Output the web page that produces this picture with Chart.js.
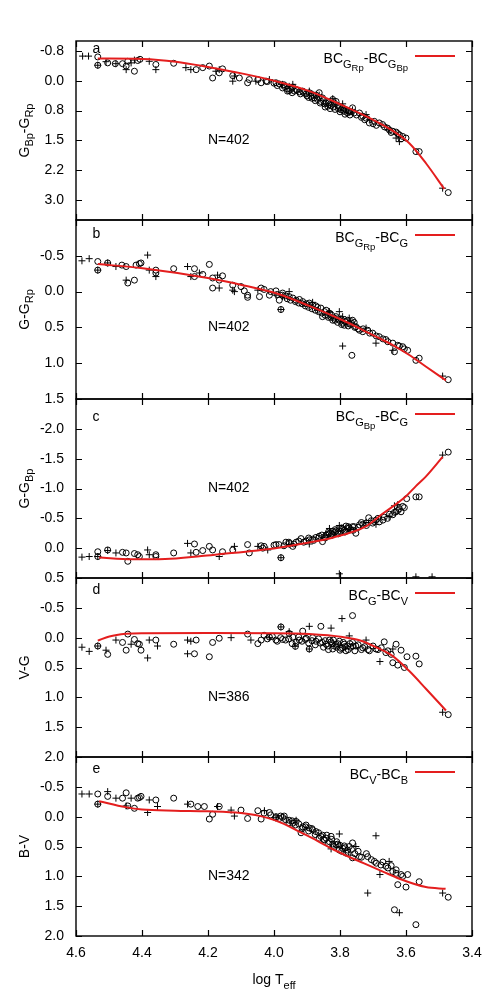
<!DOCTYPE html>
<html>
<head>
<meta charset="utf-8">
<script src="https://cdn.jsdelivr.net/npm/chart.js@4.4.1/dist/chart.umd.min.js"></script>
<style>
html, body { margin: 0; padding: 0; background: #fff; }
#wrap { position: relative; width: 498px; height: 997px; overflow: hidden; }
#wrap canvas { position: absolute; left: 0; }
</style>
</head>
<body>
<div id="wrap"></div>
<script>
// shared x axis (log Teff, reversed)
const xTicks = [3.4, 3.6, 3.8, 4.0, 4.2, 4.4, 4.6];
const xTickLabels = ['3.4', '3.6', '3.8', '4.0', '4.2', '4.4', '4.6'];

// panel a : Gbp-Grp
const aYTicks = [-0.75, 0, 0.75, 1.5, 2.25, 3.0];
const aYLabels = ['-0.8', '0.0', '0.8', '1.5', '2.2', '3.0'];
const aFit = [[4.534,-0.56],[4.398,-0.55],[4.297,-0.48],[4.196,-0.34],[4.095,-0.18],[3.994,0.01],[3.893,0.26],[3.792,0.62],[3.691,1.02],[3.640,1.26],[3.590,1.57],[3.539,2.08],[3.484,2.72]];
const aOpen = [[4.534,-0.60],[4.534,-0.39],[4.504,-0.45],[4.481,-0.43],[4.459,-0.43],[4.448,-0.37],[4.443,-0.49],[4.423,-0.24],[4.413,-0.51],[4.406,-0.54],[4.358,-0.41],[4.304,-0.44],[4.236,-0.28],[4.216,-0.33],[4.196,-0.37],[4.186,-0.07],[4.166,-0.20],[4.156,-0.30],[4.125,-0.13],[4.105,-0.07],[4.080,0.05],[4.075,-0.03],[4.049,-0.03],[4.039,0.05],[4.024,0.01],[3.994,0.05],[3.984,0.08],[3.974,0.18],[3.969,0.14],[3.959,0.26],[3.954,0.25],[3.943,0.16],[3.938,0.26],[3.933,0.22],[3.923,0.28],[3.913,0.26],[3.903,0.33],[3.893,0.30],[3.888,0.39],[3.883,0.35],[3.878,0.43],[3.873,0.36],[3.868,0.47],[3.863,0.30],[3.858,0.52],[3.853,0.43],[3.847,0.58],[3.842,0.56],[3.837,0.64],[3.832,0.60],[3.827,0.62],[3.822,0.47],[3.817,0.56],[3.812,0.52],[3.807,0.62],[3.802,0.67],[3.797,0.73],[3.792,0.68],[3.787,0.77],[3.782,0.73],[3.777,0.81],[3.772,0.77],[3.767,0.78],[3.762,0.68],[3.757,0.81],[3.741,0.81],[3.731,0.89],[3.721,0.94],[3.711,1.06],[3.696,1.02],[3.681,1.06],[3.671,1.10],[3.656,1.19],[3.640,1.27],[3.630,1.29],[3.620,1.36],[3.610,1.40],[3.600,1.44],[3.570,1.78],[3.560,1.78],[3.472,2.81],
    [4.02,0.02],[4.00,0.06],[3.99,0.12],[3.97,0.10],[3.96,0.20],[3.95,0.22],[3.945,0.30],[3.93,0.24],[3.92,0.33],[3.91,0.30],[3.90,0.38],[3.895,0.42],[3.885,0.44],[3.875,0.50],[3.865,0.42],[3.86,0.56],[3.85,0.50],[3.845,0.66],[3.835,0.55],[3.83,0.70],[3.82,0.66],[3.815,0.72],[3.805,0.70],[3.80,0.78],[3.79,0.74],[3.785,0.84],[3.775,0.76],[3.77,0.86],[3.75,0.86],[3.735,0.92],[3.725,0.98],[3.70,1.08],[3.69,1.12],[3.665,1.16],[3.65,1.24],[3.645,1.30],[3.625,1.33],[3.615,1.46]];
const aCross = [[4.580,-0.62],[4.562,-0.62],[4.534,-0.39],[4.509,-0.48],[4.479,-0.43],[4.448,-0.28],[4.433,-0.45],[4.423,-0.52],[4.378,-0.49],[4.358,-0.28],[4.267,-0.33],[4.252,-0.28],[4.176,-0.24],[4.166,-0.28],[4.125,0.01],[4.120,-0.12],[4.055,0.01],[4.014,-0.03],[3.974,0.09],[3.954,0.14],[3.943,0.09],[3.893,0.26],[3.863,0.36],[3.822,0.45],[3.792,0.58],[3.762,0.73],[3.721,0.85],[3.711,0.98],[3.651,1.23],[3.630,1.44],[3.620,1.53],[3.489,2.70]];

// panel b : G-Grp
const bYTicks = [-0.5, 0, 0.5, 1.0, 1.5];
const bYLabels = ['-0.5', '0.0', '0.5', '1.0', '1.5'];
const bFit = [[4.534,-0.385],[4.398,-0.325],[4.196,-0.185],[4.095,-0.09],[3.994,0.024],[3.893,0.20],[3.792,0.40],[3.741,0.513],[3.691,0.63],[3.640,0.746],[3.590,0.885],[3.539,1.05],[3.479,1.24]];
const bOpen = [[4.534,-0.42],[4.534,-0.30],[4.504,-0.40],[4.461,-0.37],[4.448,-0.35],[4.443,-0.12],[4.423,-0.16],[4.418,-0.37],[4.408,-0.39],[4.403,-0.40],[4.358,-0.30],[4.358,-0.26],[4.304,-0.32],[4.241,-0.32],[4.241,-0.21],[4.216,-0.24],[4.196,-0.38],[4.186,-0.19],[4.186,-0.05],[4.166,-0.16],[4.156,-0.22],[4.125,-0.09],[4.100,-0.07],[4.090,-0.01],[4.080,0.05],[4.080,0.08],[4.044,0.07],[4.039,-0.05],[4.014,0.05],[3.994,-0.01],[3.984,0.12],[3.979,0.25],[3.974,0.02],[3.964,0.06],[3.954,0.07],[3.943,0.09],[3.933,0.12],[3.923,0.11],[3.913,0.14],[3.903,0.17],[3.893,0.16],[3.883,0.19],[3.873,0.20],[3.868,0.22],[3.858,0.23],[3.853,0.35],[3.847,0.28],[3.842,0.26],[3.837,0.33],[3.832,0.30],[3.827,0.36],[3.822,0.40],[3.817,0.37],[3.812,0.35],[3.807,0.43],[3.802,0.40],[3.797,0.38],[3.792,0.44],[3.787,0.47],[3.782,0.42],[3.777,0.40],[3.772,0.45],[3.767,0.46],[3.764,0.89],[3.762,0.40],[3.757,0.43],[3.752,0.49],[3.741,0.54],[3.731,0.56],[3.716,0.54],[3.701,0.58],[3.681,0.63],[3.661,0.67],[3.640,0.72],[3.635,0.84],[3.625,0.75],[3.610,0.77],[3.595,0.82],[3.570,0.96],[3.560,0.93],[3.472,1.23],
    [4.03,-0.03],[4.01,0.0],[3.99,0.04],[3.975,0.05],[3.96,0.10],[3.95,0.12],[3.935,0.14],[3.925,0.16],[3.915,0.17],[3.905,0.20],[3.895,0.22],[3.885,0.24],[3.875,0.26],[3.865,0.28],[3.855,0.30],[3.845,0.33],[3.835,0.36],[3.825,0.33],[3.815,0.40],[3.805,0.38],[3.795,0.46],[3.785,0.42],[3.775,0.48],[3.765,0.44],[3.755,0.50],[3.745,0.52],[3.73,0.52],[3.71,0.58],[3.69,0.62],[3.67,0.66],[3.655,0.70],[3.62,0.76],[3.605,0.80]];
const bCross = [[4.582,-0.43],[4.560,-0.46],[4.534,-0.30],[4.504,-0.40],[4.479,-0.35],[4.448,-0.16],[4.383,-0.51],[4.378,-0.30],[4.358,-0.21],[4.262,-0.35],[4.252,-0.21],[4.226,-0.26],[4.171,-0.23],[4.166,-0.05],[4.125,-0.02],[4.120,0.0],[4.049,-0.02],[3.994,0.05],[3.979,0.25],[3.974,0.07],[3.954,0.0],[3.893,0.19],[3.883,0.15],[3.868,0.26],[3.832,0.28],[3.802,0.28],[3.792,0.35],[3.792,0.76],[3.772,0.37],[3.721,0.51],[3.691,0.72],[3.640,0.82],[3.489,1.18]];

// panel c : G-Gbp
const cYTicks = [-2.0, -1.5, -1.0, -0.5, 0, 0.5];
const cYLabels = ['-2.0', '-1.5', '-1.0', '-0.5', '0.0', '0.5'];
const cFit = [[4.53,0.155],[4.43,0.185],[4.33,0.18],[4.22,0.13],[4.02,0.02],[3.92,-0.07],[3.82,-0.18],[3.72,-0.37],[3.67,-0.58],[3.60,-0.87],[3.57,-1.04],[3.54,-1.20],[3.489,-1.53]];
const cOpen = [[4.534,0.06],[4.534,0.14],[4.504,0.03],[4.459,0.07],[4.448,0.08],[4.443,0.22],[4.423,0.09],[4.413,0.11],[4.408,0.14],[4.358,0.11],[4.358,0.14],[4.304,0.08],[4.241,-0.07],[4.236,0.07],[4.216,0.04],[4.196,-0.03],[4.186,0.03],[4.156,0.06],[4.125,0.03],[4.080,-0.06],[4.075,0.08],[4.039,-0.04],[4.034,0.0],[3.994,-0.06],[3.979,0.16],[3.964,-0.10],[3.954,-0.08],[3.943,-0.03],[3.933,-0.10],[3.918,-0.16],[3.903,-0.12],[3.893,-0.14],[3.883,-0.15],[3.873,-0.18],[3.863,-0.20],[3.853,-0.11],[3.847,-0.19],[3.842,-0.22],[3.837,-0.23],[3.832,-0.25],[3.827,-0.21],[3.822,-0.28],[3.817,-0.26],[3.812,-0.29],[3.807,-0.27],[3.802,-0.33],[3.797,-0.28],[3.792,-0.32],[3.787,-0.30],[3.782,-0.37],[3.777,-0.33],[3.772,-0.34],[3.767,-0.31],[3.762,-0.36],[3.757,-0.36],[3.752,-0.25],[3.741,-0.39],[3.731,-0.40],[3.721,-0.42],[3.713,-0.51],[3.701,-0.42],[3.691,-0.47],[3.681,-0.44],[3.666,-0.52],[3.656,-0.50],[3.640,-0.56],[3.630,-0.61],[3.625,-0.63],[3.615,-0.61],[3.610,-0.70],[3.605,-0.68],[3.598,-0.83],[3.570,-0.86],[3.560,-0.86],[3.472,-1.61],
    [4.03,-0.03],[4.00,-0.05],[3.985,-0.06],[3.97,-0.04],[3.955,-0.10],[3.94,-0.07],[3.925,-0.12],[3.91,-0.10],[3.895,-0.17],[3.88,-0.13],[3.865,-0.17],[3.855,-0.22],[3.845,-0.17],[3.835,-0.27],[3.825,-0.24],[3.815,-0.31],[3.805,-0.24],[3.795,-0.34],[3.785,-0.27],[3.775,-0.36],[3.76,-0.30],[3.745,-0.35],[3.735,-0.43],[3.72,-0.38],[3.705,-0.46],[3.685,-0.50],[3.67,-0.47],[3.65,-0.57],[3.635,-0.60],[3.62,-0.66]];
const cCross = [[4.582,0.15],[4.560,0.14],[4.534,0.14],[4.504,0.04],[4.479,0.08],[4.383,0.03],[4.378,0.11],[4.262,-0.08],[4.252,0.08],[4.166,0.14],[4.120,-0.03],[4.049,-0.03],[4.019,0.03],[3.979,0.16],[3.954,-0.06],[3.893,-0.07],[3.832,-0.33],[3.802,-0.38],[3.802,0.43],[3.772,-0.31],[3.721,-0.43],[3.691,-0.40],[3.651,-0.53],[3.635,-0.71],[3.625,-0.73],[3.570,0.48],[3.521,0.48],[3.489,-1.56]];

// panel d : V-G
const dYTicks = [-0.5, 0, 0.5, 1.0, 1.5, 2.0];
const dYLabels = ['-0.5', '0.0', '0.5', '1.0', '1.5', '2.0'];
const dFit = [[4.534,0.05],[4.499,-0.02],[4.448,-0.065],[4.398,-0.075],[4.196,-0.078],[3.994,-0.075],[3.893,-0.06],[3.792,-0.01],[3.741,0.044],[3.691,0.16],[3.640,0.31],[3.590,0.56],[3.539,0.86],[3.479,1.22]];
const dOpen = [[4.534,0.14],[4.504,0.28],[4.459,0.08],[4.448,0.21],[4.443,-0.06],[4.423,0.03],[4.413,0.10],[4.408,0.11],[4.403,0.21],[4.358,0.04],[4.304,0.11],[4.241,0.27],[4.236,0.04],[4.196,0.32],[4.186,0.08],[4.166,0.01],[4.080,-0.06],[4.049,0.10],[4.039,0.04],[4.014,-0.01],[3.994,0.04],[3.979,-0.18],[3.974,0.03],[3.954,-0.07],[3.943,-0.01],[3.933,0.08],[3.923,0.04],[3.913,-0.11],[3.903,0.01],[3.893,0.19],[3.883,0.0],[3.873,0.06],[3.858,-0.19],[3.853,0.08],[3.842,0.11],[3.837,0.14],[3.832,0.04],[3.827,0.07],[3.822,0.19],[3.817,0.14],[3.812,0.11],[3.807,0.10],[3.802,0.06],[3.797,0.18],[3.792,0.17],[3.787,0.11],[3.782,0.22],[3.777,0.14],[3.767,0.16],[3.762,-0.37],[3.762,0.08],[3.752,0.14],[3.731,0.17],[3.711,0.22],[3.691,0.19],[3.666,0.07],[3.661,0.25],[3.640,0.42],[3.630,0.11],[3.625,0.46],[3.615,0.21],[3.605,0.50],[3.597,0.32],[3.570,0.31],[3.560,0.44],[3.472,1.29],
    [4.03,-0.04],[4.02,0.02],[4.005,-0.02],[3.99,0.06],[3.98,0.0],[3.965,0.04],[3.955,0.02],[3.945,0.10],[3.935,0.145],[3.925,-0.01],[3.915,0.06],[3.905,0.03],[3.895,0.09],[3.885,0.05],[3.875,0.12],[3.865,0.02],[3.86,0.09],[3.85,0.16],[3.845,0.05],[3.835,0.20],[3.825,0.10],[3.82,0.04],[3.81,0.16],[3.80,0.21],[3.79,0.08],[3.785,0.15],[3.775,0.20],[3.77,0.10],[3.76,0.14],[3.755,0.22],[3.745,0.12],[3.735,0.20],[3.725,0.15],[3.715,0.20],[3.70,0.14],[3.685,0.20],[3.675,0.17],[3.655,0.22],[3.645,0.28]];
const dCross = [[4.582,0.16],[4.560,0.23],[4.534,0.14],[4.509,0.21],[4.479,0.04],[4.433,0.11],[4.383,0.34],[4.378,0.04],[4.353,0.14],[4.262,0.04],[4.262,0.27],[4.252,0.06],[4.130,0.0],[4.070,0.04],[4.014,0.0],[3.979,-0.18],[3.954,-0.10],[3.936,0.145],[3.893,0.19],[3.893,-0.19],[3.827,-0.16],[3.794,-0.32],[3.772,-0.03],[3.721,0.04],[3.679,0.40],[3.640,0.19],[3.489,1.25]];

// panel e : B-V
const eYTicks = [-0.5, 0, 0.5, 1.0, 1.5, 2.0];
const eYLabels = ['-0.5', '0.0', '0.5', '1.0', '1.5', '2.0'];
const eFit = [[4.53,-0.26],[4.45,-0.16],[4.40,-0.12],[4.30,-0.10],[4.20,-0.09],[4.10,-0.06],[4.02,0.02],[3.97,0.12],[3.92,0.26],[3.87,0.40],[3.82,0.55],[3.77,0.68],[3.72,0.80],[3.67,0.92],[3.62,1.04],[3.54,1.18],[3.48,1.21]];
const eOpen = [[4.534,-0.38],[4.534,-0.21],[4.504,-0.34],[4.459,-0.31],[4.448,-0.40],[4.443,-0.18],[4.423,-0.14],[4.413,-0.31],[4.408,-0.32],[4.403,-0.34],[4.358,-0.28],[4.304,-0.31],[4.252,-0.21],[4.231,-0.17],[4.211,-0.17],[4.196,0.04],[4.186,-0.04],[4.166,-0.17],[4.100,-0.11],[4.080,0.03],[4.049,-0.10],[4.039,0.04],[4.014,-0.07],[3.994,0.0],[3.984,0.03],[3.974,0.01],[3.969,-0.01],[3.954,0.06],[3.943,0.11],[3.933,0.08],[3.918,0.27],[3.913,0.17],[3.903,0.14],[3.893,0.19],[3.883,0.22],[3.873,0.25],[3.863,0.36],[3.853,0.31],[3.847,0.39],[3.842,0.36],[3.832,0.42],[3.827,0.33],[3.822,0.46],[3.812,0.47],[3.807,0.46],[3.802,0.56],[3.792,0.53],[3.787,0.49],[3.782,0.61],[3.777,0.56],[3.772,0.50],[3.762,0.44],[3.762,0.69],[3.741,0.67],[3.716,0.67],[3.696,0.75],[3.676,0.81],[3.661,0.83],[3.640,0.92],[3.635,1.56],[3.630,0.89],[3.625,1.14],[3.615,0.97],[3.600,1.18],[3.595,0.97],[3.570,1.81],[3.560,1.09],[3.472,1.35],
    [4.03,-0.06],[4.01,-0.03],[3.995,0.02],[3.98,-0.01],[3.965,0.05],[3.955,0.10],[3.945,0.07],[3.935,0.14],[3.925,0.12],[3.915,0.20],[3.905,0.17],[3.895,0.24],[3.885,0.20],[3.875,0.30],[3.865,0.27],[3.858,0.33],[3.85,0.38],[3.84,0.31],[3.835,0.45],[3.825,0.38],[3.818,0.50],[3.81,0.42],[3.80,0.48],[3.795,0.58],[3.785,0.52],[3.775,0.60],[3.765,0.55],[3.755,0.62],[3.745,0.58],[3.735,0.68],[3.72,0.62],[3.705,0.72],[3.69,0.78],[3.67,0.76],[3.655,0.86],[3.645,0.82],[3.63,0.95],[3.61,1.0]];
const eCross = [[4.582,-0.38],[4.560,-0.38],[4.534,-0.21],[4.504,-0.42],[4.479,-0.31],[4.448,-0.18],[4.433,-0.31],[4.383,-0.07],[4.378,-0.28],[4.353,-0.17],[4.262,-0.21],[4.171,-0.17],[4.130,-0.11],[4.120,-0.01],[4.029,-0.10],[3.994,0.01],[3.933,0.06],[3.827,0.54],[3.802,0.29],[3.752,0.50],[3.716,1.28],[3.691,0.32],[3.679,0.97],[3.651,0.75],[3.620,1.61],[3.489,1.28]];

const FONT = '"Liberation Sans", Arial, Helvetica, sans-serif';
const RED = '#e41e1e';
const PLOT_TOP = 41, PANEL_H = 179, AXIS_W = 76, RIGHT_PAD = 26, PAD = 30;
const TICK = 6;
// sizes for baseline / subscript / sub-subscript
const RICH = [{size: 14, dy: 0}, {size: 11, dy: 4.5}, {size: 9.5, dy: 7.5}];

Chart.defaults.font.family = FONT;
Chart.defaults.color = '#000';

const panels = [
    {open: aOpen, cross: aCross, fit: aFit, yMin: -1, yMax: 3.5, ticks: aYTicks, labels: aYLabels,
     yTitle: 'G_{Bp}-G_{Rp}', key: 'BC_{G_{Rp}}-BC_{G_{Bp}}', letter: 'a', letterY: -0.8, count: 'N=402', countY: 1.5},
    {open: bOpen, cross: bCross, fit: bFit, yMin: -1, yMax: 1.5, ticks: bYTicks, labels: bYLabels,
     yTitle: 'G-G_{Rp}', key: 'BC_{G_{Rp}}-BC_{G}', letter: 'b', letterY: -0.8, count: 'N=402', countY: 0.5},
    {open: cOpen, cross: cCross, fit: cFit, yMin: -2.5, yMax: 0.5, ticks: cYTicks, labels: cYLabels,
     yTitle: 'G-G_{Bp}', key: 'BC_{G_{Bp}}-BC_{G}', letter: 'c', letterY: -2.2, count: 'N=402', countY: -1.0},
    {open: dOpen, cross: dCross, fit: dFit, yMin: -1, yMax: 2.0, ticks: dYTicks, labels: dYLabels,
     yTitle: 'V-G', key: 'BC_{G}-BC_{V}', letter: 'd', letterY: -0.8, count: 'N=386', countY: 1.0},
    {open: eOpen, cross: eCross, fit: eFit, yMin: -1, yMax: 2.0, ticks: eYTicks, labels: eYLabels,
     yTitle: 'B-V', key: 'BC_{V}-BC_{B}', letter: 'e', letterY: -0.8, count: 'N=342', countY: 1.0}
];

// gnuplot-like enhanced text: "BC_{G_{Rp}}" -> [[text, level], ...]
function parseRich(s, lvl, out) {
    let i = 0, buf = '';
    const flush = () => { if (buf) { out.push([buf, lvl]); buf = ''; } };
    while (i < s.length) {
        if (s[i] === '_') {
            flush();
            if (s[i + 1] === '{') {
                let depth = 1, j = i + 2;
                while (depth > 0) {
                    if (s[j] === '{') depth++;
                    else if (s[j] === '}') depth--;
                    j++;
                }
                parseRich(s.slice(i + 2, j - 1), lvl + 1, out);
                i = j;
            } else {
                out.push([s[i + 1], lvl + 1]);
                i += 2;
            }
        } else {
            buf += s[i];
            i++;
        }
    }
    flush();
    return out;
}

function richWidth(ctx, parts) {
    let w = 0;
    parts.forEach(([t, l]) => {
        ctx.font = RICH[l].size + 'px ' + FONT;
        w += ctx.measureText(t).width;
    });
    return w;
}

function drawRich(ctx, parts, x, y) {
    ctx.textAlign = 'left';
    ctx.textBaseline = 'alphabetic';
    parts.forEach(([t, l]) => {
        ctx.font = RICH[l].size + 'px ' + FONT;
        ctx.fillText(t, x, y + RICH[l].dy);
        x += ctx.measureText(t).width;
    });
}

function decor(p, last) {
    return {
        id: 'decor',
        afterDraw(chart) {
            const ctx = chart.ctx;
            const a = chart.chartArea;
            const x = chart.scales.x, y = chart.scales.y;
            ctx.save();
            ctx.fillStyle = '#000';

            // border (soft, like the gnuplot png) + inward ticks on all four sides
            const L = Math.round(a.left), R = Math.round(a.right);
            const T = Math.round(a.top), B = Math.round(a.bottom);
            ctx.strokeStyle = '#000';
            ctx.lineWidth = 1.4;
            ctx.strokeRect(L, T, R - L, B - T);
            ctx.lineWidth = 1.2;
            ctx.beginPath();
            xTicks.forEach(v => {
                const px = Math.round(x.getPixelForValue(v)) + 0.5;
                ctx.moveTo(px, T); ctx.lineTo(px, T + TICK);
                ctx.moveTo(px, B); ctx.lineTo(px, B - TICK);
            });
            p.ticks.forEach(v => {
                const py = Math.round(y.getPixelForValue(v)) + 0.5;
                ctx.moveTo(L, py); ctx.lineTo(L + TICK, py);
                ctx.moveTo(R, py); ctx.lineTo(R - TICK, py);
            });
            ctx.stroke();

            // key
            const key = parseRich(p.key, 0, []);
            drawRich(ctx, key, a.right - 64 - richWidth(ctx, key), a.top + 22);
            ctx.strokeStyle = RED;
            ctx.lineWidth = 2;
            ctx.beginPath();
            ctx.moveTo(a.right - 57, a.top + 15);
            ctx.lineTo(a.right - 17, a.top + 15);
            ctx.stroke();

            // panel letter and count
            ctx.font = '14px ' + FONT;
            ctx.textAlign = 'left';
            ctx.textBaseline = 'middle';
            ctx.fillText(p.letter, x.getPixelForValue(4.55), y.getPixelForValue(p.letterY));
            ctx.fillText(p.count, x.getPixelForValue(4.2), y.getPixelForValue(p.countY));

            // y title, rotated
            const yt = parseRich(p.yTitle, 0, []);
            ctx.save();
            ctx.translate(28.5, (a.top + a.bottom) / 2);
            ctx.rotate(-Math.PI / 2);
            drawRich(ctx, yt, -richWidth(ctx, yt) / 2, 0);
            ctx.restore();

            // x title
            if (last) {
                const xt = parseRich('log T_{eff}', 0, []);
                drawRich(ctx, xt, (a.left + a.right) / 2 - richWidth(ctx, xt) / 2, a.bottom + 48);
            }
            ctx.restore();
        }
    };
}

const wrap = document.getElementById('wrap');

panels.forEach((p, i) => {
    const last = i === panels.length - 1;
    const top = PLOT_TOP + i * PANEL_H - PAD;
    const height = last ? 997 - top : PANEL_H + 2 * PAD;
    const xAxisH = 40;

    const canvas = document.createElement('canvas');
    canvas.width = 498;
    canvas.height = height;
    canvas.style.top = top + 'px';
    canvas.style.width = '498px';
    canvas.style.height = height + 'px';
    wrap.appendChild(canvas);

    new Chart(canvas, {
        type: 'scatter',
        data: {
            datasets: [
                {
                    type: 'line',
                    data: p.fit.map(([vx, vy]) => ({x: vx, y: vy})),
                    borderColor: RED,
                    borderWidth: 2,
                    pointRadius: 0,
                    fill: false,
                    cubicInterpolationMode: 'monotone'
                },
                {
                    data: p.open.map(([vx, vy]) => ({x: vx, y: vy})),
                    pointStyle: 'circle',
                    pointRadius: 3,
                    borderColor: '#000',
                    backgroundColor: 'rgba(0,0,0,0)',
                    borderWidth: 1
                },
                {
                    data: p.cross.map(([vx, vy]) => ({x: vx, y: vy})),
                    pointStyle: 'cross',
                    pointRadius: 3.5,
                    borderColor: '#000',
                    borderWidth: 1
                }
            ]
        },
        options: {
            responsive: false,
            animation: false,
            events: [],
            layout: {
                padding: {left: 0, right: RIGHT_PAD, top: PAD, bottom: last ? height - PAD - PANEL_H - xAxisH : PAD}
            },
            plugins: {legend: {display: false}, tooltip: {enabled: false}},
            scales: {
                x: {
                    type: 'linear',
                    min: 3.4,
                    max: 4.6,
                    reverse: true,
                    display: last,
                    grid: {display: false, drawTicks: false},
                    border: {display: false},
                    afterBuildTicks: s => { s.ticks = xTicks.map(v => ({value: v})); },
                    afterFit: s => { if (last) s.height = xAxisH; },
                    ticks: {
                        callback: (v, idx) => xTickLabels[idx],
                        padding: 9,
                        maxRotation: 0,
                        autoSkip: false,
                        color: '#000',
                        font: {family: FONT, size: 14}
                    }
                },
                y: {
                    type: 'linear',
                    min: p.yMin,
                    max: p.yMax,
                    reverse: true,
                    grid: {display: false, drawTicks: false},
                    border: {display: false},
                    afterBuildTicks: s => { s.ticks = p.ticks.map(v => ({value: v})); },
                    afterFit: s => { s.width = AXIS_W; },
                    ticks: {
                        callback: (v, idx) => p.labels[idx],
                        padding: 12,
                        autoSkip: false,
                        color: '#000',
                        font: {family: FONT, size: 14}
                    }
                }
            }
        },
        plugins: [decor(p, last)]
    });
});
</script>
</body>
</html>
